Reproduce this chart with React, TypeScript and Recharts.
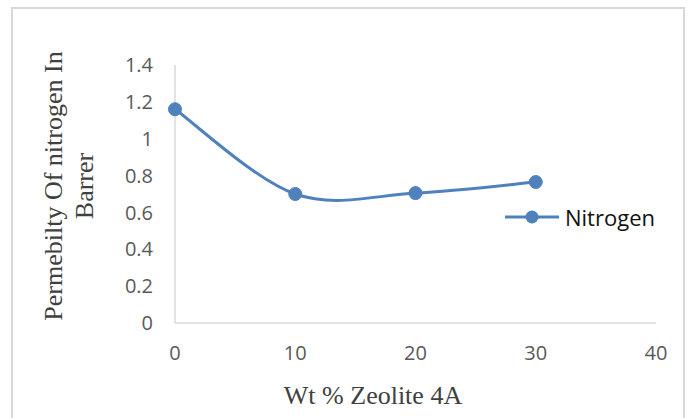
import React from 'react';
import { LineChart, Line, XAxis, YAxis, Legend } from 'recharts';

const zeoliteWt = [0, 10, 20, 30];
const nitrogenPerm = [1.16, 0.7, 0.705, 0.765];
const xTicks = [0, 10, 20, 30, 40];
const yTicks = [0, 0.2, 0.4, 0.6, 0.8, 1, 1.2, 1.4];
const seriesName = 'Nitrogen';
const xTitle = 'Wt % Zeolite 4A';
const yTitleLines = ['Permebilty Of nitrogen In', 'Barrer'];

const data = zeoliteWt.map((x, i) => ({ x, y: nitrogenPerm[i] }));

const BLUE = '#4f81bd';
const AXIS = '#d9d9d9';
const TICK = '#595959';
const TITLE = '#404040';

// Excel-like smoothed line (Catmull-Rom, endpoints duplicated)
function excelSmooth(context: any) {
  let pts: [number, number][] = [];
  return {
    areaStart() {},
    areaEnd() {},
    lineStart() {
      pts = [];
    },
    point(x: number, y: number) {
      pts.push([+x, +y]);
    },
    lineEnd() {
      const n = pts.length;
      if (n === 0) return;
      context.moveTo(pts[0][0], pts[0][1]);
      for (let i = 0; i < n - 1; i++) {
        const p0 = pts[Math.max(i - 1, 0)];
        const p1 = pts[i];
        const p2 = pts[i + 1];
        const p3 = pts[Math.min(i + 2, n - 1)];
        context.bezierCurveTo(
          p1[0] + (p2[0] - p0[0]) / 6,
          p1[1] + (p2[1] - p0[1]) / 6,
          p2[0] - (p3[0] - p1[0]) / 6,
          p2[1] - (p3[1] - p1[1]) / 6,
          p2[0],
          p2[1]
        );
      }
    },
  };
}

const fmtY = (v: number) => String(Number(v.toFixed(1)));

const LegendContent = () => (
  <div style={{ display: 'flex', alignItems: 'center', height: 28 }}>
    <svg width={56} height={16} style={{ display: 'block' }}>
      <line x1={0} y1={8} x2={54} y2={8} stroke={BLUE} strokeWidth={3} />
      <circle cx={27} cy={8} r={6.5} fill={BLUE} />
    </svg>
    <span
      style={{
        fontFamily: '"Open Sans", sans-serif',
        fontSize: 22,
        lineHeight: '28px',
        color: '#111',
        marginLeft: 4,
        whiteSpace: 'nowrap',
      }}
    >
      {seriesName}
    </span>
  </div>
);

export default function App() {
  return (
    <div style={{ position: 'absolute', left: 0, top: 0, width: 689, height: 418, background: '#fff', overflow: 'hidden' }}>
      <div
        style={{
          position: 'absolute',
          left: 11,
          top: 7,
          width: 674,
          height: 420,
          border: `2px solid ${AXIS}`,
          boxSizing: 'border-box',
        }}
      />
      <div style={{ position: 'absolute', left: 0, top: 0 }}>
        <LineChart width={689} height={418} data={data} margin={{ top: 65, right: 33, bottom: 55, left: 115 }}>
          <XAxis
            dataKey="x"
            type="number"
            domain={[0, 40]}
            ticks={xTicks}
            height={40}
            tickLine={false}
            tickSize={0}
            tickMargin={23}
            axisLine={{ stroke: AXIS, strokeWidth: 1.5 }}
            tick={{ fill: TICK, fontSize: 20, fontFamily: '"Open Sans", sans-serif' }}
            label={() => (
              <text
                x={373}
                y={404}
                textAnchor="middle"
                fill={TITLE}
                style={{ fontFamily: '"Liberation Serif", serif', fontSize: 26 }}
              >
                {xTitle}
              </text>
            )}
          />
          <YAxis
            type="number"
            domain={[0, 1.4]}
            ticks={yTicks}
            width={60}
            tickLine={false}
            tickSize={0}
            tickMargin={22}
            tickFormatter={fmtY}
            axisLine={{ stroke: AXIS, strokeWidth: 1.5 }}
            tick={{ fill: TICK, fontSize: 20, fontFamily: '"Open Sans", sans-serif' }}
            label={() => (
              <text
                x={62}
                y={186}
                textAnchor="middle"
                fill={TITLE}
                transform="rotate(-90 62 186)"
                style={{ fontFamily: '"Liberation Serif", serif', fontSize: 26 }}
              >
                <tspan x={62} dy={0}>{yTitleLines[0]}</tspan>
                <tspan x={62} dy={31}>{yTitleLines[1]}</tspan>
              </text>
            )}
          />
          <Legend
            layout="horizontal"
            verticalAlign="middle"
            align="center"
            content={LegendContent}
            wrapperStyle={{ left: 505, top: 203, width: 'auto', height: 28 }}
          />
          <Line
            name={seriesName}
            dataKey="y"
            type={excelSmooth as any}
            stroke={BLUE}
            strokeWidth={3}
            dot={{ r: 6.5, fill: BLUE, stroke: BLUE, strokeWidth: 1 }}
            activeDot={false}
            isAnimationActive={false}
          />
        </LineChart>
      </div>
    </div>
  );
}
